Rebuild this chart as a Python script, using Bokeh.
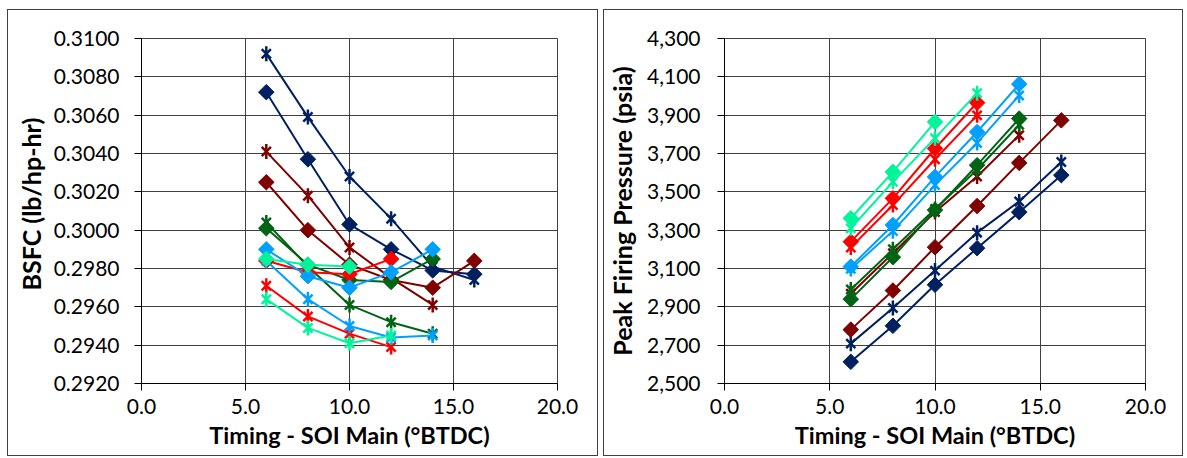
import math
from bokeh.plotting import figure
from bokeh.layouts import row
from bokeh.models import Range1d, FixedTicker, NumeralTickFormatter, Title
from bokeh.embed import file_html
from bokeh.resources import INLINE

# ---- data ----
timing = [6, 8, 10, 12, 14, 16]

# BSFC (lb/hp-hr)
bsfc_navy_d = [0.3072, 0.3037, 0.3003, 0.2990, 0.2979, 0.2977]
bsfc_navy_s = [0.3092, 0.3059, 0.3028, 0.3006, 0.2981, 0.2974]
bsfc_dred_d = [0.3025, 0.3000, 0.2982, 0.2974, 0.2970, 0.2984]
bsfc_dred_s = [0.3041, 0.3018, 0.2991, 0.2975, 0.2961]
bsfc_dgreen_d = [0.3001, 0.2982, 0.2974, 0.2973, 0.2985]
bsfc_dgreen_s = [0.3004, 0.2981, 0.2961, 0.2952, 0.2946]
bsfc_red_d = [0.2984, 0.2978, 0.2977, 0.2985]
bsfc_red_s = [0.2971, 0.2955, 0.2946, 0.2939]
bsfc_lblue_d = [0.2990, 0.2976, 0.2970, 0.2978, 0.2990]
bsfc_lblue_s = [0.2984, 0.2964, 0.2950, 0.2944, 0.2945]
bsfc_mint_d = [0.2985, 0.2982, 0.2981]
bsfc_mint_s = [0.2964, 0.2949, 0.2941, 0.2945]

# Peak firing pressure (psia)
pfp_navy_d = [2613, 2801, 3015, 3206, 3394, 3587]
pfp_navy_s = [2708, 2894, 3089, 3287, 3450, 3656]
pfp_dred_d = [2781, 2985, 3211, 3426, 3651, 3873]
pfp_dred_s = [2968, 3180, 3395, 3580, 3795]
pfp_dgreen_d = [2940, 3159, 3405, 3639, 3882]
pfp_dgreen_s = [2990, 3200, 3410, 3615, 3850]
pfp_red_d = [3240, 3466, 3726, 3965]
pfp_red_s = [3210, 3431, 3670, 3899]
pfp_lblue_d = [3110, 3327, 3578, 3812, 4062]
pfp_lblue_s = [3098, 3295, 3535, 3755, 4003]
pfp_mint_d = [3362, 3604, 3865]
pfp_mint_s = [3310, 3552, 3780, 4015]

x_ticks = [0, 5, 10, 15, 20]
bsfc_ticks = [0.292, 0.294, 0.296, 0.298, 0.300, 0.302, 0.304, 0.306, 0.308, 0.310]
pfp_ticks = [2500, 2700, 2900, 3100, 3300, 3500, 3700, 3900, 4100, 4300]

x_title = "Timing - SOI Main (°BTDC)"
bsfc_title = "BSFC (lb/hp-hr)"
pfp_title = "Peak Firing Pressure (psia)"

NAVY = "#002060"
DRED = "#800000"
DGREEN = "#006414"
RED = "#FF0000"
LBLUE = "#00A0FF"
MINT = "#00F59B"

left_series = [
    (NAVY, "d", bsfc_navy_d), (NAVY, "s", bsfc_navy_s),
    (DRED, "d", bsfc_dred_d), (DRED, "s", bsfc_dred_s),
    (DGREEN, "d", bsfc_dgreen_d), (DGREEN, "s", bsfc_dgreen_s),
    (RED, "d", bsfc_red_d), (RED, "s", bsfc_red_s),
    (LBLUE, "d", bsfc_lblue_d), (LBLUE, "s", bsfc_lblue_s),
    (MINT, "d", bsfc_mint_d), (MINT, "s", bsfc_mint_s),
]
right_series = [
    (NAVY, "d", pfp_navy_d), (NAVY, "s", pfp_navy_s),
    (DRED, "d", pfp_dred_d), (DRED, "s", pfp_dred_s),
    (DGREEN, "d", pfp_dgreen_d), (DGREEN, "s", pfp_dgreen_s),
    (RED, "d", pfp_red_d), (RED, "s", pfp_red_s),
    (LBLUE, "d", pfp_lblue_d), (LBLUE, "s", pfp_lblue_s),
    (MINT, "d", pfp_mint_d), (MINT, "s", pfp_mint_s),
]

FONT = "Lato"
GRID = "#404040"
TICK_SIZE = "21px"
TITLE_SIZE = "23.5px"
YTITLE_SIZE = "25px"


def make_fig(width, height, yr, yticks, yfmt, mb_left, mb_right, ystandoff):
    p = figure(width=width, height=height, output_backend="svg", toolbar_location=None,
               x_range=Range1d(0, 20), y_range=Range1d(*yr),
               min_border_left=mb_left, min_border_right=mb_right,
               min_border_top=28, min_border_bottom=74)
    p.styles = {"border": "1px solid #404040"}
    p.background_fill_color = "white"
    p.border_fill_color = "white"
    p.outline_line_color = GRID
    p.xaxis.ticker = FixedTicker(ticks=x_ticks)
    p.yaxis.ticker = FixedTicker(ticks=yticks)
    p.xgrid.ticker = FixedTicker(ticks=x_ticks)
    p.ygrid.ticker = FixedTicker(ticks=yticks)
    p.xaxis.formatter = NumeralTickFormatter(format="0.0")
    p.yaxis.formatter = NumeralTickFormatter(format=yfmt)
    for g in (p.xgrid, p.ygrid):
        g.grid_line_color = GRID
        g.grid_line_width = 1
    for ax in (p.xaxis, p.yaxis):
        ax.axis_line_color = "black"
        ax.major_tick_line_color = "black"
        ax.major_tick_out = 7
        ax.major_tick_in = 0
        ax.minor_tick_line_color = None
        ax.major_label_text_font = FONT
        ax.major_label_text_font_size = TICK_SIZE
        ax.major_label_text_color = "black"
        ax.axis_label_text_font = FONT
        ax.axis_label_text_font_size = TITLE_SIZE
        ax.axis_label_text_font_style = "bold"
        ax.axis_label_text_color = "black"
    p.yaxis.major_label_standoff = ystandoff
    p.xaxis.major_label_standoff = 8
    p.xaxis.axis_label = x_title
    p.xaxis.axis_label_standoff = 4
    return p


def draw(p, series):
    for color, kind, vals in series:
        xs = timing[:len(vals)]
        p.line(xs, vals, line_color=color, line_width=2)
        if kind == "d":
            p.scatter(xs, vals, marker="square", angle=math.pi / 4, size=11,
                      fill_color=color, line_color=color, line_width=1)
        else:
            p.scatter(xs, vals, marker="x", size=13, line_color=color, line_width=2.5)
            p.scatter(xs, vals, marker="dash", angle=math.pi / 2, size=15,
                      line_color=color, line_width=2.5)


p1 = make_fig(591, 447, (0.292, 0.310), bsfc_ticks, "0.0000", 132, 42, 15)
p2 = make_fig(580, 447, (2500, 4300), pfp_ticks, "0,0", 119, 39, 17)

# left y title, starting ~93 px above the plot bottom like the original
p1.add_layout(Title(text=bsfc_title, align="left", offset=93, standoff=10,
                    text_font=FONT, text_font_size=YTITLE_SIZE, text_font_style="bold",
                    text_color="black"), "left")
p2.yaxis.axis_label = pfp_title
p2.yaxis.axis_label_standoff = 7
p2.yaxis.axis_label_text_font_size = YTITLE_SIZE

draw(p1, left_series)
draw(p2, right_series)
p1.margin = (9, 0, 0, 7)
p2.margin = (9, 0, 0, 5)

layout = row(p1, p2)
open("out.html", "w").write(file_html(layout, INLINE))
